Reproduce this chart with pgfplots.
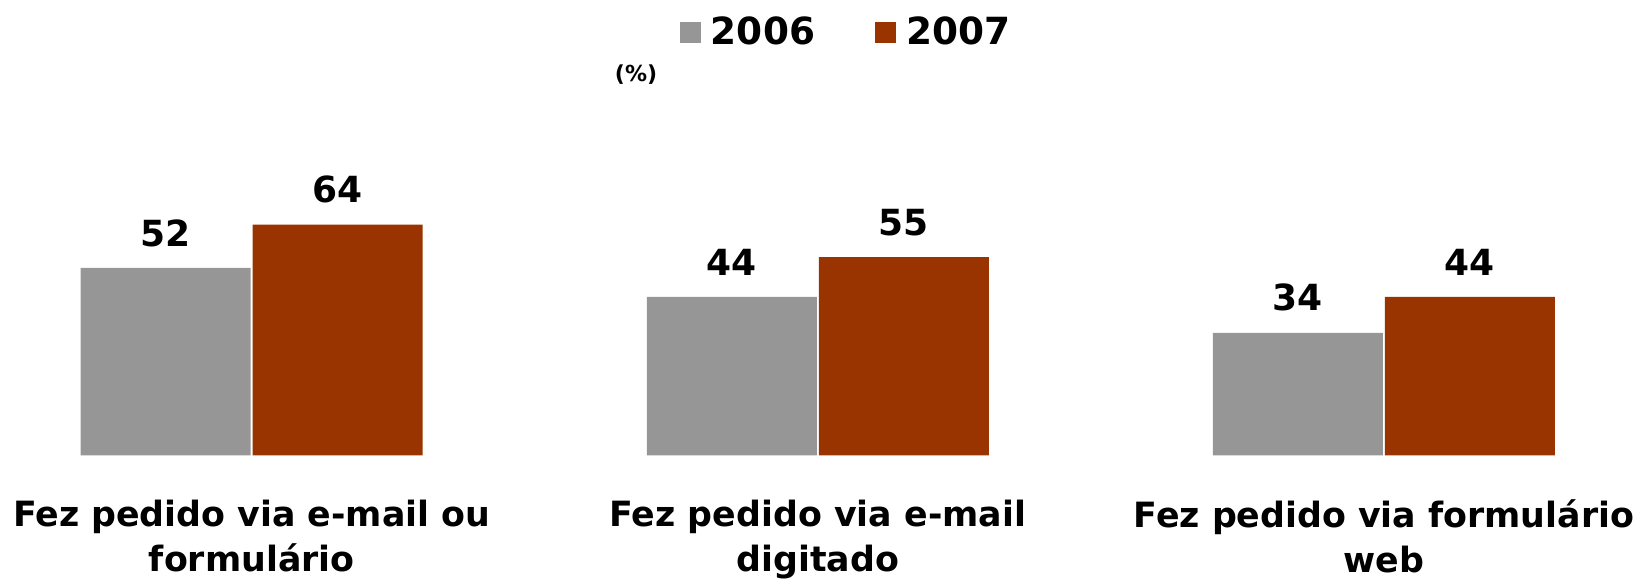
\documentclass[border=0pt]{standalone}
\usepackage{pgfplots}
\pgfplotsset{compat=1.18}
\usepackage{fontspec}
\setmainfont{DejaVu Sans}
\definecolor{cinza}{HTML}{969696}
\definecolor{tijolo}{HTML}{993300}

\begin{document}
\begin{tikzpicture}
\useasboundingbox (0,-62.75pt) rectangle (819pt,227.75pt);
\begin{axis}[
    scale only axis,
    width=819pt, height=227.75pt,
    ybar=1pt, bar width=85pt,
    xmin=-0.4447, xmax=2.4488,
    ymin=0, ymax=126.3,
    xtick={0,1,2},
    xticklabels={{Fez pedido via e-mail ou\\formulário},{Fez pedido via e-mail\\digitado},{Fez pedido via formulário\\web}},
    ytick=\empty,
    axis line style={draw=none},
    major tick length=0pt,
    xticklabel style={align=center, font=\bfseries\fontsize{17.4}{22.5}\selectfont, inner sep=0pt, anchor=north, yshift=-22pt},
    /pgf/number format/assume math mode=true,
    nodes near coords,
    nodes near coords style={font=\bfseries\fontsize{18}{18}\selectfont, anchor=south, inner sep=0pt, yshift=10.5pt, text=black},
    legend style={draw=none, fill=none, at={(axis description cs:0.4112,0.9287)}, anchor=west,
        font=\bfseries\fontsize{18.7}{18.7}\selectfont,
        /tikz/every even column/.append style={column sep=28pt}},
    legend columns=2,
    legend image code/.code={\fill[#1] (0pt,-5.25pt) rectangle (10.5pt,5.25pt); \path (13.5pt,0pt);},
]
\addplot[fill=cinza, draw=none] coordinates {(0,52) (1,44) (2,34)};
\addplot[fill=tijolo, draw=none] coordinates {(0,64) (1,55) (2,44)};
\legend{2006,2007}
\node[font=\bfseries\fontsize{11}{11}\selectfont] at (axis description cs:0.3883,0.8353) {(\%)};
\end{axis}
\end{tikzpicture}
\end{document}
